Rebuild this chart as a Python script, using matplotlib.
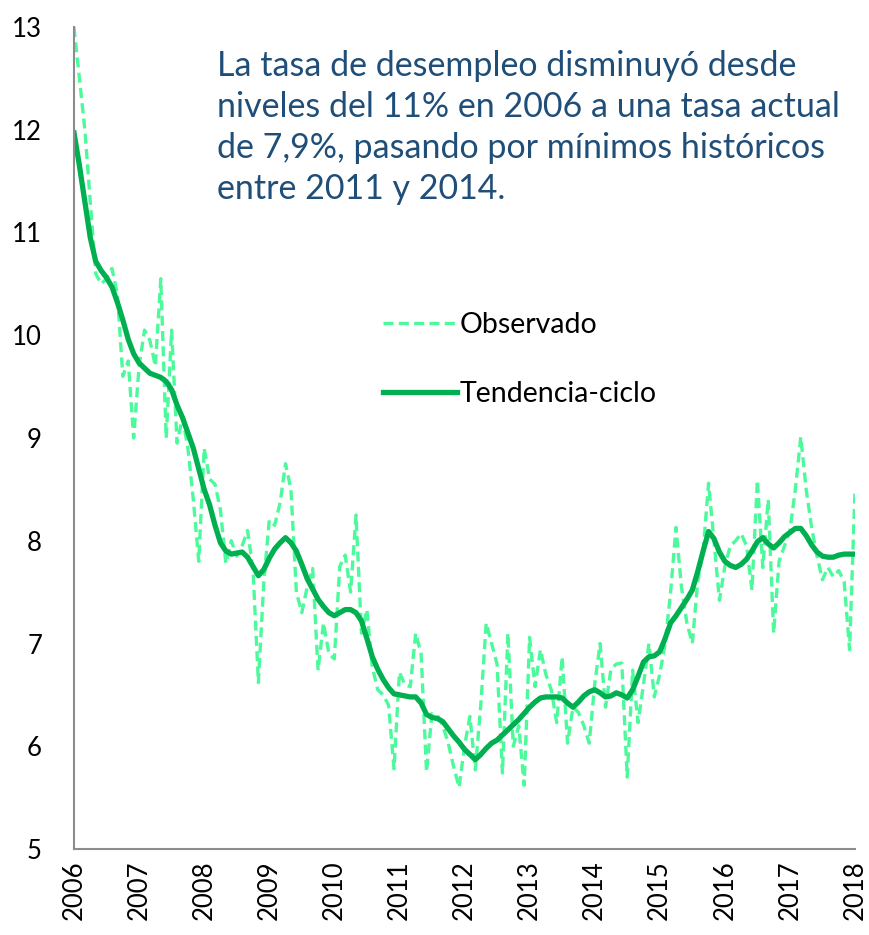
import numpy as np
import matplotlib
matplotlib.use('Agg')
import matplotlib.pyplot as plt

# Monthly series, Jan 2006 .. Jan 2018
start_year = 2006
observado = [
    13.0, 12.5, 12.0, 11.3, 10.6, 10.5, 10.55, 10.65, 10.4, 9.6, 9.75, 9.0,
    9.7, 10.05, 9.95, 9.7, 10.55, 9.0, 10.05, 8.95, 9.2, 8.9, 8.4, 7.8,
    8.9, 8.6, 8.55, 8.3, 7.78, 8.0, 7.85, 7.95, 8.1, 7.72, 6.62, 7.6,
    8.2, 8.15, 8.37, 8.75, 8.5, 7.5, 7.3, 7.55, 7.73, 6.74, 7.2, 6.9,
    6.85, 7.75, 7.86, 7.5, 8.25, 7.1, 7.33, 6.77, 6.55, 6.5, 6.4, 5.78,
    6.72, 6.6, 6.58, 7.1, 6.9, 5.75, 6.32, 6.3, 6.2, 6.03, 5.8, 5.6,
    6.0, 6.29, 5.77, 6.4, 7.2, 7.0, 6.8, 5.74, 7.1, 6.0, 6.2, 5.62,
    7.06, 6.58, 6.94, 6.7, 6.55, 6.23, 6.87, 6.03, 6.38, 6.33, 6.2, 6.03,
    6.6, 7.0, 6.38, 6.75, 6.8, 6.81, 5.7, 6.74, 6.23, 6.6, 7.0, 6.48,
    6.7, 7.0, 7.5, 8.13, 7.55, 7.2, 7.0, 7.6, 7.9, 8.56, 8.0, 7.42,
    7.75, 7.95, 8.0, 8.07, 7.95, 7.52, 8.59, 7.74, 8.4, 7.1, 7.8, 7.95,
    8.1, 8.5, 9.01, 8.5, 8.13, 7.85, 7.62, 7.74, 7.65, 7.71, 7.6, 6.94,
    8.49,
]
tendencia = [
    11.97, 11.65, 11.3, 10.95, 10.72, 10.63, 10.56, 10.47, 10.32, 10.15, 9.96, 9.82,
    9.73, 9.68, 9.63, 9.61, 9.59, 9.55, 9.47, 9.32, 9.2, 9.05, 8.9, 8.7,
    8.5, 8.35, 8.15, 7.98, 7.9, 7.87, 7.88, 7.89, 7.84, 7.75, 7.66, 7.72,
    7.83, 7.92, 7.98, 8.03, 7.98, 7.9, 7.77, 7.63, 7.53, 7.43, 7.36, 7.3,
    7.27, 7.3, 7.33, 7.33, 7.3, 7.22, 7.05, 6.87, 6.75, 6.65, 6.57, 6.51,
    6.5, 6.49, 6.48, 6.48, 6.42, 6.31, 6.28, 6.27, 6.24, 6.17, 6.1, 6.04,
    5.97, 5.92, 5.87, 5.92, 5.98, 6.03, 6.06, 6.11, 6.16, 6.21, 6.26, 6.32,
    6.38, 6.43, 6.47, 6.48, 6.48, 6.48, 6.47, 6.42, 6.38, 6.43, 6.49, 6.53,
    6.55, 6.52, 6.48, 6.49, 6.52, 6.5, 6.47, 6.55, 6.68, 6.82, 6.87, 6.88,
    6.92, 7.05, 7.2, 7.27, 7.35, 7.43, 7.52, 7.7, 7.9, 8.09, 8.02, 7.89,
    7.8, 7.76, 7.74, 7.77, 7.82, 7.9, 7.99, 8.03, 7.97, 7.93, 7.98, 8.04,
    8.08, 8.12, 8.12, 8.05, 7.96, 7.89, 7.85, 7.84, 7.84, 7.86, 7.87, 7.87,
    7.87,
]
years = list(range(2006, 2019))
yticks = [5, 6, 7, 8, 9, 10, 11, 12, 13]
texto = ("La tasa de desempleo disminuyó desde\n"
         "niveles del 11% en 2006 a una tasa actual\n"
         "de 7,9%, pasando por mínimos históricos\n"
         "entre 2011 y 2014.")

plt.rcParams['font.family'] = ['Lato', 'DejaVu Sans']

x = start_year + np.arange(len(observado)) / 12.0

fig = plt.figure(figsize=(8.69, 9.35), dpi=100)
ax = fig.add_axes([74/869, 1 - 849/935, (855 - 74)/869, (849 - 27)/935])

ax.plot(x, observado, color='#4dfa9b', lw=2.4, ls=(0, (3, 1.6)), label='Observado')
ax.plot(x, tendencia, color='#00b050', lw=3.8, label='Tendencia-ciclo')

ax.set_xlim(2006, 2018)
ax.set_ylim(5, 13)
ax.set_xticks(years)
ax.set_xticklabels([str(y) for y in years], rotation=90, fontsize=18.5)
ax.set_yticks(yticks)
ax.set_yticklabels([str(v) for v in yticks], fontsize=18.5)
ax.tick_params(length=0)
ax.tick_params(axis='x', pad=8)
ax.tick_params(axis='y', pad=23)
for s in ['top', 'right']:
    ax.spines[s].set_visible(False)
for s in ['left', 'bottom']:
    ax.spines[s].set_color('#8c8c8c')
    ax.spines[s].set_linewidth(1.5)

ax.legend(loc='upper left', bbox_to_anchor=((383 - 74)/781, 1 - (312 - 27)/822),
          frameon=False, fontsize=20.5, handlelength=2.6, labelspacing=1.5,
          handletextpad=0.1, borderaxespad=0, borderpad=0)

fig.text(217/869, 1 - 50/935, texto, color='#1f4e79', fontsize=24.5,
         va='top', ha='left', linespacing=1.34)

fig.savefig('out.png', dpi=100)
